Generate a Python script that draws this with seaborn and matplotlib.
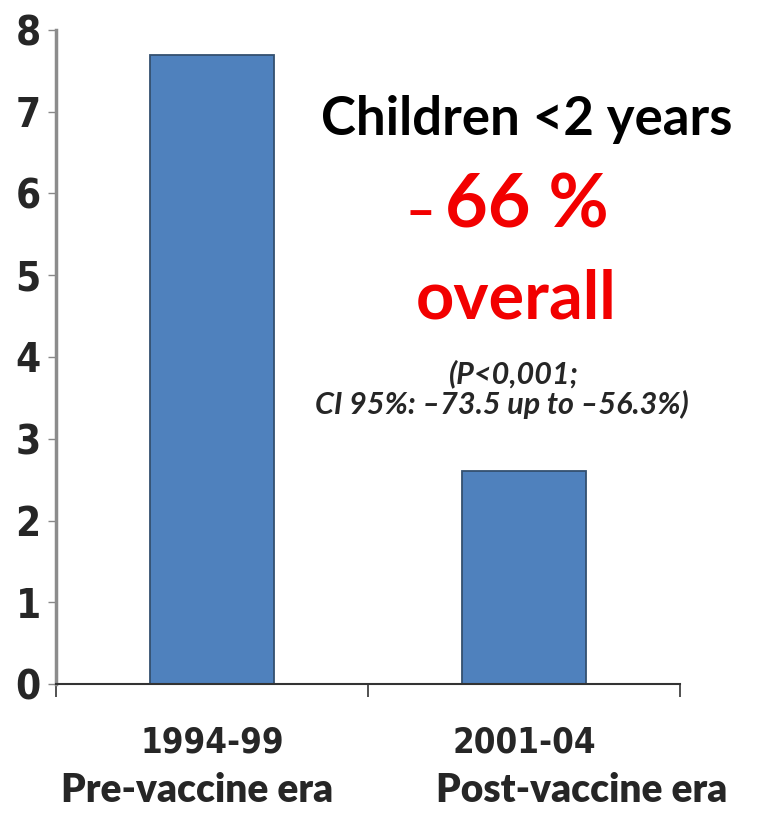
import matplotlib
matplotlib.use('Agg')
import matplotlib.pyplot as plt
import seaborn as sns
import pandas as pd

# data
periods = ["1994-99", "2001-04"]
eras = ["Pre-vaccine era", "Post-vaccine era"]
incidence = [7.7, 2.6]
y_ticks = list(range(0, 9))

W, H = 770, 814
NARROW = ['DejaVu Sans']
SANS = ['Lato', 'DejaVu Sans']
RED = '#f20000'

sns.set_style("white")
plt.rcParams['font.family'] = NARROW
plt.rcParams['font.stretch'] = 'condensed'

df = pd.DataFrame({"period": periods, "incidence": incidence})

fig = plt.figure(figsize=(W / 100, H / 100), dpi=100)
ax = fig.add_axes([56 / W, 1 - 684 / H, 624 / W, 654 / H])

sns.barplot(data=df, x="period", y="incidence", color="#4f81bd", saturation=1,
            width=0.4, edgecolor="#34506f", linewidth=1.3, ax=ax)

ax.set_xlim(-0.5, 1.5)
ax.set_ylim(0, 8)
ax.set_yticks(y_ticks)
ax.set_yticklabels([str(t) for t in y_ticks], fontsize=29, fontweight='bold',
                   fontstretch='condensed')
ax.set_xticks(range(len(periods)))
ax.set_xticklabels(periods, fontsize=25, fontweight='bold', fontstretch='condensed')
ax.set_xticks([-0.5, 0.5, 1.5], minor=True)
ax.set_xlabel("")
ax.set_ylabel("")

ax.tick_params(axis='y', which='major', direction='out', length=6, width=1,
               color='#888888', pad=5, left=True)
ax.tick_params(axis='x', which='major', length=0, pad=30, bottom=True)
ax.tick_params(axis='x', which='minor', direction='out', length=9, width=1.2,
               color='#333333', bottom=True)

for side in ['top', 'right']:
    ax.spines[side].set_visible(False)
ax.spines['left'].set_color('#8c8c8c')
ax.spines['left'].set_linewidth(2.5)
ax.spines['bottom'].set_color('#333333')
ax.spines['bottom'].set_linewidth(1.5)

# era labels under the years
era_pos = [(197, 802), (582, 802)]
for (px, py), era in zip(era_pos, eras):
    fig.text(px / W, 1 - py / H, era, ha='center', va='baseline',
             fontsize=28, fontweight='heavy', family=SANS)

# annotation block
fig.text(527 / W, 1 - 135 / H, "Children <2 years", ha='center', va='baseline',
         fontsize=38, fontweight='bold', family=SANS, color='black')
fig.text(420 / W, 1 - 228 / H, "\u2013", ha='center', va='baseline',
         fontsize=37, fontweight='bold', family=SANS, color=RED)
fig.text(527 / W, 1 - 228 / H, "66 %", ha='center', va='baseline',
         fontsize=53, fontweight='bold', family=SANS, color=RED)
fig.text(516 / W, 1 - 318 / H, "overall", ha='center', va='baseline',
         fontsize=48, fontweight='bold', family=SANS, color=RED)
fig.text(514 / W, 1 - 383 / H, "(P<0,001;", ha='center', va='baseline',
         fontsize=22, fontweight='bold', style='italic', family=SANS)
fig.text(502 / W, 1 - 414 / H, "CI 95%: \u201373.5 up to \u201356.3%)", ha='center',
         va='baseline', fontsize=22, fontweight='bold', style='italic', family=SANS)

fig.savefig("out.png", dpi=100)
